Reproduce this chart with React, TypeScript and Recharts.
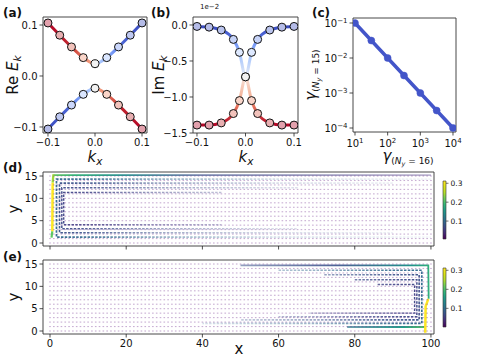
import React from 'react';
import { ComposedChart, Line, Scatter, XAxis, YAxis, ReferenceArea } from 'recharts';

const W = 480;
const H = 360;
const FONT = "'DejaVu Sans', sans-serif";

// ---------- (a) Re E_k ----------
const kxA = [-0.1, -0.075, -0.05, -0.025, 0, 0.025, 0.05, 0.075, 0.1];
const reEUpper = [0.104, 0.08, 0.057, 0.036, 0.024, 0.036, 0.057, 0.08, 0.104];
const reELower = [-0.104, -0.08, -0.057, -0.036, -0.024, -0.036, -0.057, -0.08, -0.104];
const ticksA = [-0.1, 0, 0.1];

// ---------- (b) Im E_k (x 1e-2) ----------
const kxB = [-0.1, -0.075, -0.05, -0.025, -0.0125, 0, 0.0125, 0.025, 0.05, 0.075, 0.1];
const imEUpper = [-0.02, -0.03, -0.07, -0.2, -0.38, -0.72, -0.38, -0.2, -0.07, -0.03, -0.02];
const imELower = [-1.39, -1.39, -1.36, -1.23, -1.05, -0.72, -1.05, -1.23, -1.36, -1.39, -1.39];
const ticksBy = [0, -0.5, -1, -1.5];

// ---------- (c) gamma scaling ----------
const gamma16 = [10, 31.6, 100, 316, 1000, 3162, 10000];
const gamma15 = [0.1, 0.0316, 0.01, 0.00316, 0.001, 0.000316, 0.0001];
const ticksCx = [10, 100, 1000, 10000];
const ticksCy = [0.1, 0.01, 0.001, 0.0001];

// ---------- (d)/(e) quiver grid ----------
const gridX = [0, 1, 2, 3, 4, 5, 6, 7, 8, 9, 10, 11, 12, 13, 14, 15, 16, 17, 18, 19, 20, 21, 22, 23, 24, 25, 26, 27, 28, 29, 30, 31, 32, 33, 34, 35, 36, 37, 38, 39, 40, 41, 42, 43, 44, 45, 46, 47, 48, 49, 50, 51, 52, 53, 54, 55, 56, 57, 58, 59, 60, 61, 62, 63, 64, 65, 66, 67, 68, 69, 70, 71, 72, 73, 74, 75, 76, 77, 78, 79, 80, 81, 82, 83, 84, 85, 86, 87, 88, 89, 90, 91, 92, 93, 94, 95, 96, 97, 98, 99, 100];
const gridY = [0, 1, 2, 3, 4, 5, 6, 7, 8, 9, 10, 11, 12, 13, 14, 15];
const ticksQx = [0, 20, 40, 60, 80, 100];
const ticksQy = [0, 5, 10, 15];
const cbTicks = [0.1, 0.2, 0.3];

// strong edge flows, (d): left edge
const dTopRow = [[0.9, 15.2], [100, 15.2]];
const dEdgeTop = [[0.9, 15.4], [0.7, 13.5]];
const dEdgeMid = [[0.7, 13.5], [0.6, 2.6]];
const dEdgeBot = [[0.6, 2.6], [0.4, 1.2]];
const dLoop1 = [[100, 14.3], [1.7, 14.3], [1.7, 1.3], [100, 1.3]];
const dLoop2 = [[90, 13.4], [2.5, 13.4], [2.5, 2.3], [90, 2.3]];
const dLoop3 = [[65, 12.4], [3.1, 12.4], [3.1, 3.2], [65, 3.2]];
const dLoop4 = [[45, 11.3], [3.6, 11.3], [3.6, 4.1], [45, 4.1]];

// strong edge flows, (e): right edge
const eTopRow = [[50, 14.7], [99.3, 14.7], [99.4, 7.2]];
const eEdgeMid = [[99.3, 7.2], [98.6, 5.5], [98.5, -0.4]];
const eBotRow = [[78, 0.9], [98.4, 0.9]];
const eLoop1 = [[60, 13.6], [97.6, 13.6], [97.6, 1.7], [40, 1.7]];
const eLoop2 = [[72, 12.6], [96.9, 12.6], [96.9, 2.5], [50, 2.5]];
const eLoop3 = [[80, 11.5], [96.3, 11.5], [96.3, 3.2], [60, 3.2]];
const eLoop4 = [[86, 10.4], [95.7, 10.4], [95.7, 4.0], [68, 4.0]];

// marker fill colours (styles)
const fillsAUp = ['#b40426', '#c32e31', '#dd5f4b', '#f29072', '#dcdddd', '#9ebeff', '#7597f6', '#536edd', '#3b4cc0'];
const fillsALow = [...fillsAUp].reverse();
const fillsBUp = ['#3b4cc0', '#3e51c5', '#4a63d3', '#6b8df0', '#a7c5fe', '#dddcdc', '#a7c5fe', '#6b8df0', '#4a63d3', '#3e51c5', '#3b4cc0'];
const fillsBLow = ['#b40426', '#b40426', '#c32e31', '#dd5f4b', '#f29072', '#dddcdc', '#f29072', '#dd5f4b', '#c32e31', '#b40426', '#b40426'];

const toPts = (xs: number[], ys: number[]) => xs.map((x, i) => ({ x, y: ys[i] }));
const pairs = (arr: number[][]) => arr.map(([x, y]) => ({ x, y }));
const gridPts = gridY.flatMap((y) => gridX.map((x) => ({ x, y })));

const m = (pl: number, pt: number, pr: number, pb: number, yw = 40, xh = 20) => ({
  left: pl - yw,
  top: pt,
  right: W - pr,
  bottom: H - pb - xh,
});

const tickStyle = { fontSize: 10, fill: '#111', fontFamily: FONT };
const tickLine = { stroke: '#222', strokeWidth: 0.8 };
const minus = (s: string) => s.replace('-', '\u2212');
const fmt1 = (v: number) => (Math.abs(v) < 1e-9 ? '0.0' : minus(v.toFixed(1)));

const layer: React.CSSProperties = { position: 'absolute', left: 0, top: 0, pointerEvents: 'none' };

const mkDot = (colors: string[]) => (p: any) => (
  <g key={`d${p.index}`}>
    <circle cx={p.cx} cy={p.cy} r={4} fill="#fff" />
    <circle cx={p.cx} cy={p.cy} r={4} fill={colors[p.index]} fillOpacity={0.38} stroke="#111" strokeWidth={1} />
  </g>
);

const PowTickX = (p: any) => {
  const e = Math.round(Math.log10(p.payload.value));
  return (
    <text x={p.x} y={p.y} dy={9} textAnchor="middle" fontSize={10} fill="#111" fontFamily={FONT}>
      10<tspan dy={-4} fontSize={7}>{minus(String(e))}</tspan>
    </text>
  );
};
const PowTickY = (p: any) => {
  const e = Math.round(Math.log10(p.payload.value));
  return (
    <text x={p.x} y={p.y} dy={4} textAnchor="end" fontSize={10} fill="#111" fontFamily={FONT}>
      10<tspan dy={-4} fontSize={7}>{minus(String(e))}</tspan>
    </text>
  );
};

const Stops = ({ s }: { s: [number, string, number?][] }) => (
  <>
    {s.map(([o, c, op], i) => (
      <stop key={i} offset={o} stopColor={c} stopOpacity={op === undefined ? 1 : op} />
    ))}
  </>
);

const fade = (c: string): [number, string, number?][] => [
  [0, c, 1],
  [0.1, c, 0.9],
  [0.3, c, 0.5],
  [0.6, c, 0.2],
  [1, c, 0.06],
];

const viridis: [number, string, number?][] = [
  [0, '#440154'], [0.1, '#482878'], [0.2, '#3e4989'], [0.3, '#31688e'], [0.4, '#26828e'],
  [0.5, '#1f9e89'], [0.6, '#35b779'], [0.7, '#6ece58'], [0.8, '#b5de2b'], [0.9, '#dde318'], [1, '#fde725'],
];

function PanelA() {
  const dom: [number, number] = [-0.1106, 0.1106];
  const domY: [number, number] = [-0.1118, 0.1157];
  return (
    <div style={layer}>
      <ComposedChart width={W} height={H} margin={m(43, 17, 147, 133)}>
        <defs>
          <linearGradient id="gAup" x1="0" y1="0" x2="1" y2="0">
            <Stops s={[[0, '#b40426'], [0.25, '#c2292f'], [0.3, '#d65244'], [0.45, '#f19b7d'], [0.5, '#f2cbb7'], [0.55, '#abc8fd'], [0.7, '#6f92f3'], [0.8, '#4a63d3'], [1, '#3b4cc0']]} />
          </linearGradient>
          <linearGradient id="gAlow" x1="1" y1="0" x2="0" y2="0">
            <Stops s={[[0, '#b40426'], [0.25, '#c2292f'], [0.3, '#d65244'], [0.45, '#f19b7d'], [0.5, '#f2cbb7'], [0.55, '#abc8fd'], [0.7, '#6f92f3'], [0.8, '#4a63d3'], [1, '#3b4cc0']]} />
          </linearGradient>
        </defs>
        <XAxis type="number" dataKey="x" domain={dom} allowDataOverflow ticks={ticksA} tickFormatter={fmt1} interval={0} axisLine={false} tickLine={tickLine} tickSize={3.5} tick={tickStyle} height={20} />
        <YAxis type="number" dataKey="y" domain={domY} allowDataOverflow ticks={ticksA} tickFormatter={fmt1} interval={0} axisLine={false} tickLine={tickLine} tickSize={3.5} tick={tickStyle} width={40} />
        <Line data={toPts(kxA, reEUpper)} dataKey="y" type="monotone" stroke="url(#gAup)" strokeWidth={3} dot={mkDot(fillsAUp)} isAnimationActive={false} />
        <Line data={toPts(kxA, reELower)} dataKey="y" type="monotone" stroke="url(#gAlow)" strokeWidth={3} dot={mkDot(fillsALow)} isAnimationActive={false} />
        <ReferenceArea x1={dom[0]} x2={dom[1]} y1={domY[0]} y2={domY[1]} fill="none" stroke="#333" strokeWidth={0.9} ifOverflow="visible" />
      </ComposedChart>
    </div>
  );
}

function PanelB() {
  const dom: [number, number] = [-0.1082, 0.1082];
  const domY: [number, number] = [-1.5, 0.111];
  return (
    <div style={layer}>
      <ComposedChart width={W} height={H} margin={m(193, 17, 298, 133)}>
        <defs>
          <linearGradient id="gBup" x1="0" y1="0" x2="0" y2="1">
            <Stops s={[[0, '#3b4cc0'], [0.15, '#4961d2'], [0.35, '#7396f5'], [0.6, '#aac7fd'], [1, '#e6ebf5']]} />
          </linearGradient>
          <linearGradient id="gBlow" x1="0" y1="0" x2="0" y2="1">
            <Stops s={[[0, '#f6e2da'], [0.4, '#f5b49a'], [0.6, '#e7775e'], [0.8, '#cc3b3c'], [1, '#b40426']]} />
          </linearGradient>
        </defs>
        <XAxis type="number" dataKey="x" domain={dom} allowDataOverflow ticks={ticksA} tickFormatter={fmt1} interval={0} axisLine={false} tickLine={tickLine} tickSize={3.5} tick={tickStyle} height={20} />
        <YAxis type="number" dataKey="y" domain={domY} allowDataOverflow ticks={ticksBy} tickFormatter={fmt1} interval={0} axisLine={false} tickLine={tickLine} tickSize={3.5} tick={tickStyle} width={40} />
        <Line data={toPts(kxB, imEUpper)} dataKey="y" type="monotone" stroke="url(#gBup)" strokeWidth={3} dot={mkDot(fillsBUp)} isAnimationActive={false} />
        <Line data={toPts(kxB, imELower)} dataKey="y" type="monotone" stroke="url(#gBlow)" strokeWidth={3} dot={mkDot(fillsBLow)} isAnimationActive={false} />
        <ReferenceArea x1={dom[0]} x2={dom[1]} y1={domY[0]} y2={domY[1]} fill="none" stroke="#333" strokeWidth={0.9} ifOverflow="visible" />
      </ComposedChart>
    </div>
  );
}

function PanelC() {
  const dom: [number, number] = [8.69, 12359];
  const domY: [number, number] = [0.0000769, 0.139];
  return (
    <div style={layer}>
      <ComposedChart width={W} height={H} margin={m(353, 18, 456, 132)}>
        <XAxis type="number" dataKey="x" scale="log" domain={dom} allowDataOverflow ticks={ticksCx} interval={0} axisLine={false} tickLine={tickLine} tickSize={3.5} tick={<PowTickX />} height={20} />
        <YAxis type="number" dataKey="y" scale="log" domain={domY} allowDataOverflow ticks={ticksCy} interval={0} axisLine={false} tickLine={tickLine} tickSize={3.5} tick={<PowTickY />} width={40} />
        <Line data={toPts(gamma16, gamma15)} dataKey="y" type="linear" stroke="#4355c9" strokeWidth={3.5} dot={{ r: 3.5, fill: '#4355c9', stroke: '#4355c9', strokeWidth: 0.5 }} isAnimationActive={false} />
        <ReferenceArea x1={dom[0]} x2={dom[1]} y1={domY[0]} y2={domY[1]} fill="none" stroke="#333" strokeWidth={0.9} ifOverflow="visible" />
      </ComposedChart>
    </div>
  );
}

const arrowShape = (p: any) => (
  <rect x={p.cx - 0.8} y={p.cy - 0.55} width={1.6} height={1.1} fill="#7b3f95" fillOpacity={0.42} />
);

function QuiverPanel({ pt, pb, right, showX }: { pt: number; pb: number; right: boolean; showX: boolean }) {
  const dom: [number, number] = [-1.84, 100.8];
  const domY: [number, number] = [-0.67, 15.9];
  const id = right ? 'e' : 'd';
  const gx1 = right ? 434 : 43;
  const gx2 = right ? 43 : 434;
  const line = (pts: number[][], stroke: string, w: number, dash?: string, key?: string) => (
    <Line key={key} data={pairs(pts)} dataKey="y" type="linear" stroke={stroke} strokeWidth={w} strokeDasharray={dash} dot={false} isAnimationActive={false} />
  );
  return (
    <div style={layer}>
      <ComposedChart width={W} height={H} margin={m(43, pt, 434, pb)}>
        <defs>
          {['31688e', '3b528b', '3e4a89', '414487', '2a788e'].map((c) => (
            <linearGradient key={c} id={`${id}f${c}`} gradientUnits="userSpaceOnUse" x1={gx1} y1={0} x2={gx2} y2={0}>
              <Stops s={fade('#' + c)} />
            </linearGradient>
          ))}
          <linearGradient id={`${id}top`} gradientUnits="userSpaceOnUse" x1={gx1} y1={0} x2={gx2} y2={0}>
            <Stops s={right ? [[0, '#35b779', 1], [0.06, '#21918c', 1], [0.25, '#3b528b', 0.9], [0.6, '#3b528b', 0.4], [1, '#46327e', 0.15]] : [[0, '#7ad151', 1], [0.08, '#35b779', 1], [0.2, '#21918c', 0.95], [0.4, '#3b528b', 0.7], [1, '#46327e', 0.35]]} />
          </linearGradient>
          <linearGradient id={`${id}bot`} gradientUnits="userSpaceOnUse" x1={434} y1={0} x2={330} y2={0}>
            <Stops s={[[0, '#6ece58', 1], [0.3, '#1f9e89', 1], [1, '#31688e', 0.6]]} />
          </linearGradient>
        </defs>
        <XAxis type="number" dataKey="x" domain={dom} allowDataOverflow ticks={ticksQx} tickFormatter={showX ? (v: number) => String(v) : () => ''} interval={0} axisLine={false} tickLine={tickLine} tickSize={3.5} tick={tickStyle} height={20} />
        <YAxis type="number" dataKey="y" domain={domY} allowDataOverflow ticks={ticksQy} interval={0} axisLine={false} tickLine={tickLine} tickSize={3.5} tick={tickStyle} width={40} />
        <Scatter data={gridPts} shape={arrowShape} isAnimationActive={false} />
        {right
          ? [
              line(eLoop4, `url(#ef414487)`, 1.4, '2.5 1.3', 'l4'),
              line(eLoop3, `url(#ef3e4a89)`, 1.5, '2.5 1.3', 'l3'),
              line(eLoop2, `url(#ef3b528b)`, 1.6, '2.5 1.3', 'l2'),
              line(eLoop1, `url(#ef31688e)`, 1.7, '2.5 1.3', 'l1'),
              line(eTopRow, `url(#etop)`, 1.8, undefined, 'top'),
              line(eBotRow, `url(#ebot)`, 2, undefined, 'bot'),
              line(eEdgeMid, '#fde725', 2.5, undefined, 'mid'),
            ]
          : [
              line(dLoop4, `url(#df414487)`, 1.4, '2.5 1.3', 'l4'),
              line(dLoop3, `url(#df3e4a89)`, 1.5, '2.5 1.3', 'l3'),
              line(dLoop2, `url(#df3b528b)`, 1.6, '2.5 1.3', 'l2'),
              line(dLoop1, `url(#df31688e)`, 1.7, '2.5 1.3', 'l1'),
              line(dTopRow, `url(#dtop)`, 1.9, undefined, 'top'),
              line(dEdgeTop, '#a0da39', 2.3, undefined, 'et'),
              line(dEdgeMid, '#fde725', 2.5, undefined, 'em'),
              line(dEdgeBot, '#5ec962', 2.2, undefined, 'eb'),
            ]}
        <ReferenceArea x1={dom[0]} x2={dom[1]} y1={domY[0]} y2={domY[1]} fill="none" stroke="#333" strokeWidth={0.9} ifOverflow="visible" />
      </ComposedChart>
    </div>
  );
}

function Colorbar({ pt, pb, lo, id }: { pt: number; pb: number; lo: number; id: string }) {
  const domY: [number, number] = [lo, 0.312];
  return (
    <div style={layer}>
      <ComposedChart width={W} height={H} margin={{ left: 443, right: W - 446 - 30, top: pt, bottom: H - pb }}>
        <defs>
          <linearGradient id={id} x1="0" y1="1" x2="0" y2="0">
            <Stops s={viridis} />
          </linearGradient>
        </defs>
        <XAxis type="number" dataKey="x" domain={[0, 1]} hide />
        <YAxis type="number" dataKey="y" orientation="right" domain={domY} allowDataOverflow ticks={cbTicks} interval={0} axisLine={false} tickLine={{ stroke: '#333', strokeWidth: 0.7 }} tickSize={2.5} tick={{ fontSize: 7.5, fill: '#111', fontFamily: FONT }} width={30} />
        <Scatter data={cbTicks.map((v) => ({ x: 0.5, y: v }))} shape={() => <g />} isAnimationActive={false} />
        <ReferenceArea x1={0} x2={1} y1={domY[0]} y2={domY[1]} fill={`url(#${id})`} fillOpacity={1} stroke="#333" strokeWidth={0.6} ifOverflow="visible" />
      </ComposedChart>
    </div>
  );
}

function Labels() {
  const t = { fontFamily: FONT, fill: '#111' } as const;
  const sub = (s: string, size = 10.5, dy = 3) => (
    <tspan fontStyle="italic" fontSize={size} dy={dy}>{s}</tspan>
  );
  return (
    <svg width={W} height={H} style={layer}>
      <text x={3} y={17} fontSize={12} fontWeight="bold" {...t}>(a)</text>
      <text x={151} y={17} fontSize={12} fontWeight="bold" {...t}>(b)</text>
      <text x={312} y={17} fontSize={12} fontWeight="bold" {...t}>(c)</text>
      <text x={3} y={172} fontSize={12} fontWeight="bold" {...t}>(d)</text>
      <text x={3} y={261} fontSize={12} fontWeight="bold" {...t}>(e)</text>
      <text x={200} y={9} fontSize={7} {...t}>1e−2</text>

      <text transform="translate(18,75) rotate(-90)" textAnchor="middle" fontSize={15} {...t}>
        Re <tspan fontStyle="italic">E</tspan>{sub('k')}
      </text>
      <text transform="translate(164,75) rotate(-90)" textAnchor="middle" fontSize={15} {...t}>
        Im <tspan fontStyle="italic">E</tspan>{sub('k')}
      </text>
      <text transform="translate(316,75) rotate(-90)" textAnchor="middle" fontSize={15} {...t}>
        <tspan fontStyle="italic">γ</tspan>
        <tspan fontSize={9} dy={3}>(</tspan>
        <tspan fontSize={9} fontStyle="italic">N</tspan>
        <tspan fontSize={6.5} fontStyle="italic" dy={2}>y</tspan>
        <tspan fontSize={9} dy={-2}> = 15)</tspan>
      </text>

      <text x={95} y={162} textAnchor="middle" fontSize={15} {...t}>
        <tspan fontStyle="italic">k</tspan>{sub('x')}
      </text>
      <text x={246} y={162} textAnchor="middle" fontSize={15} {...t}>
        <tspan fontStyle="italic">k</tspan>{sub('x')}
      </text>
      <text x={408} y={161} textAnchor="middle" fontSize={15} {...t}>
        <tspan fontStyle="italic">γ</tspan>
        <tspan fontSize={9} dy={3}>(</tspan>
        <tspan fontSize={9} fontStyle="italic">N</tspan>
        <tspan fontSize={6.5} fontStyle="italic" dy={2}>y</tspan>
        <tspan fontSize={9} dy={-2}> = 16)</tspan>
      </text>

      <text transform="translate(19,209) rotate(-90)" textAnchor="middle" fontSize={15} {...t}>y</text>
      <text transform="translate(19,297) rotate(-90)" textAnchor="middle" fontSize={15} {...t}>y</text>
      <text x={239} y={354} textAnchor="middle" fontSize={15} {...t}>x</text>
    </svg>
  );
}

export default function App() {
  return (
    <div style={{ position: 'absolute', left: 0, top: 0, width: W, height: H, background: '#fff', fontFamily: FONT }}>
      <PanelA />
      <PanelB />
      <PanelC />
      <QuiverPanel pt={172} pb={246} right={false} showX={false} />
      <QuiverPanel pt={260} pb={334} right={true} showX={true} />
      <Colorbar pt={181} pb={239} lo={0.005} id="cbd" />
      <Colorbar pt={268} pb={327} lo={0.002} id="cbe" />
      <Labels />
    </div>
  );
}
